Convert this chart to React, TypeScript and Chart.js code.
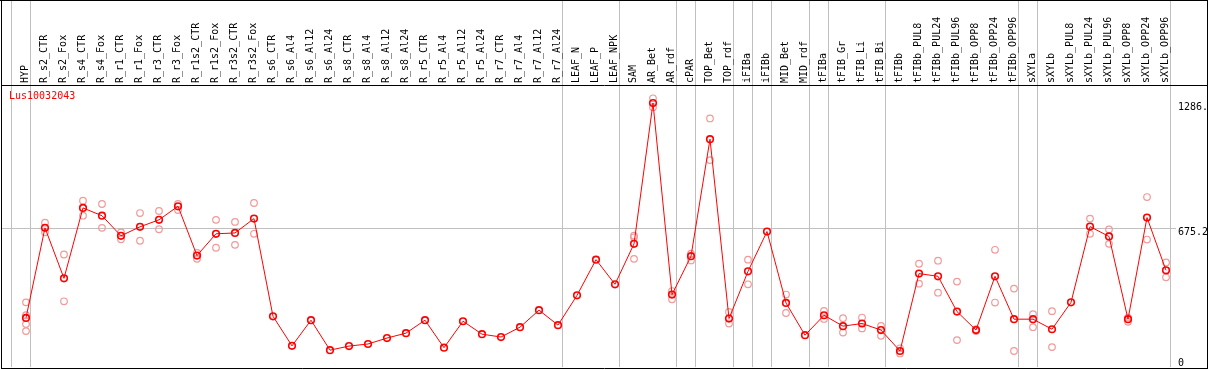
import { useEffect, useRef } from 'react';
import { Chart, registerables } from 'chart.js';

Chart.register(...registerables);

const N = null;

const geneName = 'Lus10032043';

const categories = [
  'HYP', 'R_s2_CTR', 'R_s2_Fox', 'R_s4_CTR', 'R_s4_Fox', 'R_r1_CTR', 'R_r1_Fox', 'R_r3_CTR', 'R_r3_Fox',
  'R_r1s2_CTR', 'R_r1s2_Fox', 'R_r3s2_CTR', 'R_r3s2_Fox', 'R_s6_CTR', 'R_s6_Al4', 'R_s6_Al12', 'R_s6_Al24',
  'R_s8_CTR', 'R_s8_Al4', 'R_s8_Al12', 'R_s8_Al24', 'R_r5_CTR', 'R_r5_Al4', 'R_r5_Al12', 'R_r5_Al24',
  'R_r7_CTR', 'R_r7_Al4', 'R_r7_Al12', 'R_r7_Al24', 'LEAF_N', 'LEAF_P', 'LEAF_NPK', 'SAM', 'AR_Bet', 'AR_rdf',
  'cPAR', 'TOP_Bet', 'TOP_rdf', 'iFIBa', 'iFIBb', 'MID_Bet', 'MID_rdf', 'tFIBa', 'tFIB_Gr', 'tFIB_Li', 'tFIB_Bi',
  'tFIBb', 'tFIBb_PUL8', 'tFIBb_PUL24', 'tFIBb_PUL96', 'tFIBb_OPP8', 'tFIBb_OPP24', 'tFIBb_OPP96',
  'sXYLa', 'sXYLb', 'sXYLb_PUL8', 'sXYLb_PUL24', 'sXYLb_PUL96', 'sXYLb_OPP8', 'sXYLb_OPP24', 'sXYLb_OPP96',
];

const meanValues = [
  239, 678, 432, 775, 737, 639, 683, 717, 783, 543, 649, 653, 723,
  247, 103, 228, 82, 102, 112, 141, 165, 228, 94, 223, 160, 146, 194, 277, 204,
  349, 523, 403,
  600, 1286, 353, 540, 1110, 236, 466, 660, 312, 155,
  252, 199, 212, 180, 78, 455, 442, 270, 180, 442, 233,
  233, 184, 315, 684, 636, 233, 728, 471,
];

const rep1 = [
  315, 703, 548, 810, 794, 656, 750, 760, 794, 556, 717, 707, 799,
  N, N, N, N, N, N, N, N, N, N, N, N, N, N, N, N, N, N, N,
  640, 1309, 370, 552, 1211, 268, 523, N, 353, N,
  273, 238, 241, 200, 91, 503, 518, 416, 184, 571, 382,
  257, 272, N, 723, 670, 241, 828, 509,
];

const rep2 = [
  252, 656, 320, 737, 678, 622, 615, 671, 765, 527, 581, 595, 649,
  N, N, N, N, N, N, N, N, N, N, N, N, N, N, N, N, N, N, N,
  632, 1266, 330, 519, 1008, 212, 403, N, 263, N,
  234, 168, 188, 152, 66, 406, 362, 131, 175, 314, 78,
  194, 97, N, 649, 600, 220, 621, 437,
];

const rep3 = [
  209, N, N, N, N, N, N, N, N, N, N, N, N,
  N, N, N, N, N, N, N, N, N, N, N, N, N, N, N, N, N, N, N,
  527, N, N, N, N, N, N, N, N, N,
  N, N, N, N, N, N, N, N, N, N, N,
  N, N, N, N, N, N, N, N,
];

const rep4 = [
  175, N, N, N, N, N, N, N, N, N, N, N, N,
  N, N, N, N, N, N, N, N, N, N, N, N, N, N, N, N, N, N, N,
  N, N, N, N, N, N, N, N, N, N,
  N, N, N, N, N, N, N, N, N, N, N,
  N, N, N, N, N, N, N, N,
];

// index of the last category of each group (separator drawn after it)
const groupEnds = [-1, 0, 28, 31, 34, 35, 37, 38, 39, 41, 42, 45, 52, 53, 60];

const yTickValues = [0, 675.2, 1286];
const yTickLabels = ['0', '675.2', '1286.'];

const FONT = 'DejaVu Sans Mono';
const X_MIN = -1.263;
const X_MAX = 60.21;
const Y_MAX = 1369;

const toPoints = (vals: (number | null)[]) => vals.map((v, i) => ({ x: i, y: v }));

const zeroPadding = (s: any) => {
  s.paddingLeft = 0;
  s.paddingRight = 0;
  s.paddingTop = 0;
  s.paddingBottom = 0;
};

const framePlugin = {
  id: 'frameAndTitle',
  afterDraw(chart: any) {
    const { ctx, chartArea, width } = chart;
    ctx.save();
    ctx.strokeStyle = '#000';
    ctx.lineWidth = 1;
    ctx.beginPath();
    const leftX = chartArea.left - 0.5;
    const rightX = width - 1.5;
    const botY = chartArea.bottom + 1.5;
    ctx.moveTo(0, 0.5); ctx.lineTo(rightX + 0.5, 0.5);
    ctx.moveTo(leftX, 0); ctx.lineTo(leftX, botY + 0.5);
    ctx.moveTo(rightX, 0); ctx.lineTo(rightX, botY + 0.5);
    ctx.moveTo(leftX - 0.5, botY); ctx.lineTo(rightX + 0.5, botY);
    ctx.moveTo(leftX - 0.5, chartArea.top - 0.5); ctx.lineTo(rightX + 0.5, chartArea.top - 0.5);
    ctx.stroke();
    ctx.fillStyle = '#ff0000';
    ctx.font = `10px "${FONT}"`;
    ctx.textAlign = 'left';
    ctx.textBaseline = 'alphabetic';
    ctx.fillText(geneName, chartArea.left + 7, chartArea.top + 13);
    ctx.restore();
  },
};

export default function App() {
  const ref = useRef<HTMLCanvasElement>(null);

  useEffect(() => {
    const repStyle = {
      showLine: false,
      pointRadius: 3.3,
      pointBorderWidth: 1.2,
      pointBorderColor: '#f09a9a',
      pointBackgroundColor: 'rgba(0,0,0,0)',
      borderColor: '#f09a9a',
      order: 1,
    };
    const chart = new Chart(ref.current as HTMLCanvasElement, {
      type: 'line',
      data: {
        datasets: [
          {
            label: 'mean',
            data: toPoints(meanValues),
            borderColor: '#ff0000',
            borderWidth: 1,
            pointRadius: 3.3,
            pointBorderWidth: 1.6,
            pointBorderColor: '#ff0000',
            pointBackgroundColor: 'rgba(0,0,0,0)',
            tension: 0,
            order: 0,
          },
          { label: 'rep1', data: toPoints(rep1), ...repStyle },
          { label: 'rep2', data: toPoints(rep2), ...repStyle },
          { label: 'rep3', data: toPoints(rep3), ...repStyle },
          { label: 'rep4', data: toPoints(rep4), ...repStyle },
        ] as any,
      },
      options: {
        responsive: false,
        maintainAspectRatio: false,
        animation: false,
        devicePixelRatio: 1,
        layout: { autoPadding: false, padding: { left: 2, top: 0, right: 0, bottom: 3 } },
        plugins: {
          legend: { display: false },
          tooltip: { enabled: false },
          title: { display: false },
        },
        scales: {
          x: {
            type: 'linear',
            position: 'top',
            weight: 1,
            min: X_MIN,
            max: X_MAX,
            grid: { display: false, drawTicks: false },
            border: { display: false },
            ticks: {
              autoSkip: false,
              minRotation: 90,
              maxRotation: 90,
              padding: 3,
              labelOffset: 11,
              color: '#000',
              font: { family: FONT, size: 10 },
              callback: (_v: any, i: number) => categories[i],
            },
            afterBuildTicks: (s: any) => {
              s.ticks = categories.map((_c, i) => ({ value: i }));
            },
            afterFit: (s: any) => {
              s.height = 86;
              zeroPadding(s);
            },
          },
          x2: {
            type: 'linear',
            position: 'top',
            weight: 0,
            min: X_MIN,
            max: X_MAX,
            grid: { color: '#c0c0c0', lineWidth: 1, drawTicks: true, tickLength: 86 },
            border: { display: false },
            ticks: { display: false },
            afterBuildTicks: (s: any) => {
              s.ticks = groupEnds.map((g) => ({ value: g + 0.24 }));
            },
            afterFit: (s: any) => {
              s.height = 0;
              zeroPadding(s);
            },
          },
          y: {
            type: 'linear',
            position: 'right',
            min: 0,
            max: Y_MAX,
            grid: {
              color: (c: any) => (c.tick && c.tick.value === yTickValues[1] ? '#c0c0c0' : 'rgba(0,0,0,0)'),
              drawTicks: true,
              tickLength: 6,
            },
            border: { display: false },
            ticks: {
              padding: 2,
              color: '#000',
              font: { family: FONT, size: 10, lineHeight: 0.8 },
              callback: (_v: any, i: number) => (i === 0 ? [yTickLabels[i], ''] : ['', yTickLabels[i]]),
            },
            afterBuildTicks: (s: any) => {
              s.ticks = yTickValues.map((v) => ({ value: v }));
            },
            afterFit: (s: any) => {
              s.width = 39;
              zeroPadding(s);
            },
          },
        },
      } as any,
      plugins: [framePlugin],
    });
    return () => chart.destroy();
  }, []);

  return (
    <div style={{ position: 'fixed', left: 0, top: 0, width: 1209, height: 370, background: '#fff' }}>
      <canvas ref={ref} width={1209} height={370} style={{ display: 'block', width: 1209, height: 370 }} />
    </div>
  );
}
